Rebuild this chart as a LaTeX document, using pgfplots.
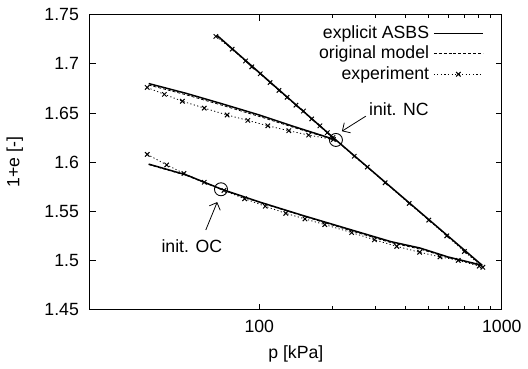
\documentclass[border=0pt]{standalone}
\usepackage{fontspec}
\setmainfont{Liberation Sans}
\usepackage{pgfplots}
\pgfplotsset{compat=1.18}
\usetikzlibrary{arrows.meta}
\begin{document}
\begin{tikzpicture}[font=\fontsize{9}{10.8}\selectfont]
\begin{axis}[
  scale only axis,
  width=209bp, height=149.5bp,
  xmode=log,
  xmin=20, xmax=1000,
  ymin=1.45, ymax=1.75,
  xtick={100,1000}, xticklabels={100,1000},
  ytick={1.45,1.5,1.55,1.6,1.65,1.7,1.75},
  yticklabels={1.45,1.5,1.55,1.6,1.65,1.7,1.75},
  /pgf/number format/assume math mode=true,
  tick align=inside,
  major tick length=3bp, minor tick length=1.8bp,
  axis line style={line width=0.6pt},
  every tick/.style={line width=0.5pt, black},
  xticklabel style={yshift=-2bp},
  yticklabel style={xshift=-2bp},
  xlabel={p [kPa]}, ylabel={1+e [-]},
  every axis x label/.style={at={(axis description cs:0.5,-0.1505)}, anchor=center},
  every axis y label/.style={at={(axis description cs:-0.182,0.5)}, anchor=center, rotate=90},
  clip=false,
  legend style={draw=none, fill=none, at={(rel axis cs:0.962,0.985)}, anchor=north east,
    row sep=-1.6bp, inner sep=1bp, font=\fontsize{9}{10.8}\selectfont},
  legend cell align=right,
  legend plot pos=right,
  legend image code/.code={\draw[#1, mark repeat=2, mark phase=2] plot coordinates {(0bp,0bp) (12.5bp,0bp) (25bp,0bp)};},
]
% explicit ASBS (solid)
\addplot[black, line width=0.75pt, mark=none] coordinates {(67,1.729) (207,1.6226) (830,1.495)};
\addlegendentry{explicit ASBS}
% original model (dashed)
\addplot[black, line width=0.4pt, dash pattern=on 1.5bp off 1bp, mark=none] coordinates {(67,1.7283) (207,1.6222) (830,1.4945)};
\addlegendentry{original model}
% experiment (dotted with marks)
\addplot[black, line width=0.4pt, dash pattern=on 0.6bp off 1.2bp, mark=x, mark size=1.6bp, mark options={solid, line width=0.5pt}] coordinates {
(66.2,1.728) (77.3,1.715) (87.8,1.703) (93.1,1.697) (100.9,1.690) (110.8,1.681)
(120.5,1.673) (130.2,1.666) (141.6,1.658) (152.1,1.652) (164.4,1.644) (177.8,1.637)
(190.8,1.630) (201.2,1.625) (246.4,1.606) (278.8,1.595) (330.4,1.579) (415,1.558)
(500,1.541) (593,1.525) (701,1.509) (835,1.493)};
\addlegendentry{experiment}

% upper swelling branch
\addplot[black, line width=0.75pt, mark=none, forget plot] coordinates {
(35,1.680) (50,1.6700) (70,1.6595) (100,1.648) (140,1.636) (207,1.6226)};
\addplot[black, line width=0.4pt, dash pattern=on 1.5bp off 1bp, mark=none, forget plot] coordinates {
(35,1.6785) (50,1.6685) (70,1.658) (100,1.6465) (140,1.635) (207,1.6222)};
\addplot[black, line width=0.4pt, dash pattern=on 0.6bp off 1.2bp, mark=x, mark size=1.6bp, mark options={solid, line width=0.5pt}, forget plot] coordinates {
(34.5,1.676) (40.6,1.669) (48.2,1.662) (59.3,1.655) (73.7,1.648) (89.7,1.6425)
(108.4,1.637) (132.3,1.632) (159.8,1.6275) (202,1.623)};

% lower swelling branch
\addplot[black, line width=0.75pt, mark=none, forget plot] coordinates {
(35,1.598) (50,1.587) (70,1.5724) (100,1.5595) (150,1.546) (240,1.531) (350,1.519)
(460,1.5126) (600,1.5035) (830,1.495)};
\addplot[black, line width=0.4pt, dash pattern=on 1.5bp off 1bp, mark=none, forget plot] coordinates {
(35,1.5975) (50,1.5865) (70,1.572) (100,1.559) (150,1.5455) (240,1.530) (350,1.518)
(460,1.5115) (600,1.503) (830,1.4945)};
\addplot[black, line width=0.4pt, dash pattern=on 0.6bp off 1.2bp, mark=x, mark size=1.6bp, mark options={solid, line width=0.5pt}, forget plot] coordinates {
(34.5,1.6079) (41.5,1.5972) (48.9,1.5885) (59.3,1.5795) (71.5,1.5712) (87,1.5627)
(105.8,1.5551) (128.6,1.5479) (154.3,1.5422) (186.2,1.5364) (240.3,1.5283) (298.5,1.521)
(368.8,1.5143) (458.3,1.5083) (555.9,1.5036) (661.6,1.500) (807,1.4942)};

% initial-state circles
\addplot[black, only marks, mark=o, mark size=3.3bp, mark options={line width=0.45pt}, forget plot] coordinates {(207,1.6226) (69.5,1.5724)};

% annotations
\draw[-{Straight Barb[length=3bp]}, line width=0.4pt] (rel axis cs:0.670,0.656) -- (rel axis cs:0.612,0.605);
\node[anchor=west, inner sep=0pt] at (rel axis cs:0.677,0.679) {init. NC};
\draw[-{Straight Barb[length=3bp]}, line width=0.4pt] (rel axis cs:0.2816,0.270) -- (rel axis cs:0.3093,0.3645);
\node[anchor=center, inner sep=0pt] at (rel axis cs:0.2476,0.214) {init. OC};
\end{axis}
\path (current axis.south west) ++(-44.5bp,-29bp) rectangle ++(264bp,186bp);
\end{tikzpicture}
\end{document}
